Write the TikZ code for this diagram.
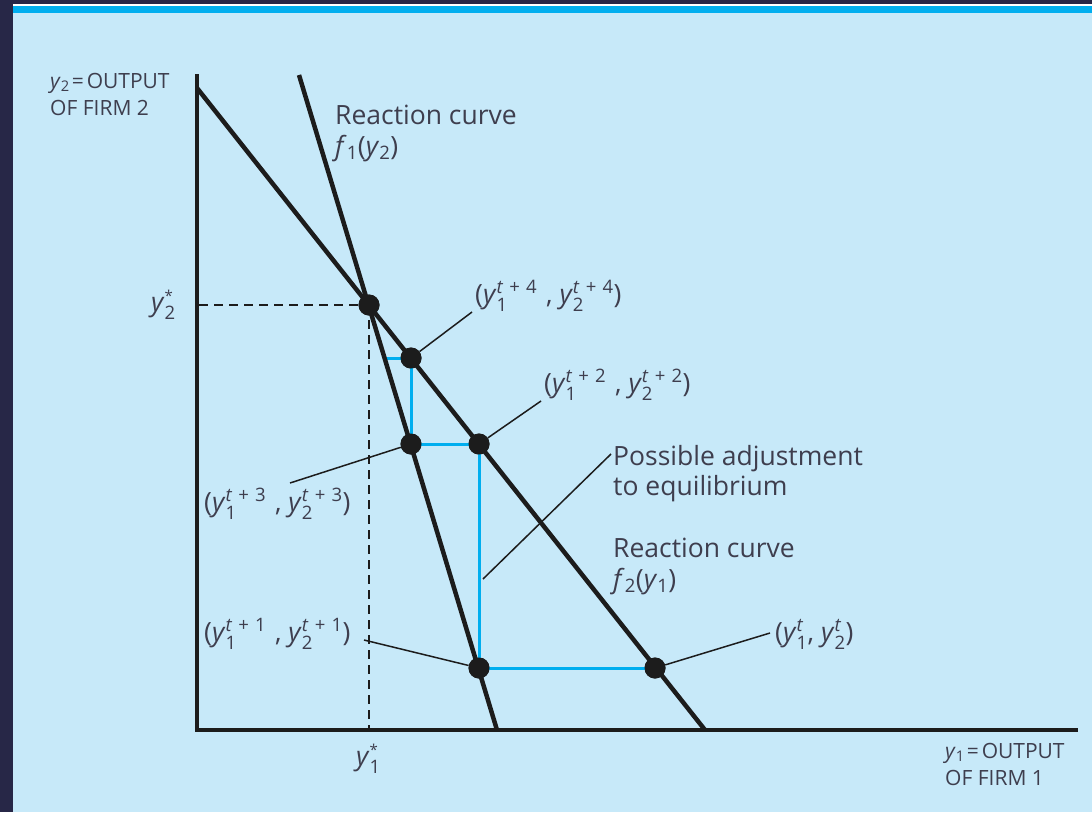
\documentclass[tikz,border=0pt]{standalone}
\usepackage{amsmath}
\usepackage{fontspec}
\setmainfont{Open Sans}
\definecolor{navy}{HTML}{272747}
\definecolor{band}{HTML}{00AEEF}
\definecolor{bg}{HTML}{C7E9F9}
\definecolor{adj}{HTML}{00AEEF}
\definecolor{txt}{HTML}{3E3E4E}
\definecolor{ink}{HTML}{1C1C1C}
\newcommand\yv[2]{\textit{y}$^{\text{#2}}_{\text{#1}}$}
\newcommand\tp[1]{\textit{t}\,\,+\,\,#1}
\newcommand\ystar[1]{\textit{y}$^{\text{\fontsize{15}{15}\selectfont *}}_{\text{#1}}$}
\tikzset{
  lab/.style={text=txt, inner sep=0pt, anchor=base west, font=\fontsize{26.5}{30}\selectfont},
  axlab/.style={text=txt, inner sep=0pt, anchor=base west, font=\fontsize{21}{27}\selectfont},
  curve/.style={ink, line width=4.5pt},
  axis/.style={ink, line width=4pt},
  guide/.style={ink, line width=1.8pt, dash pattern=on 9pt off 6pt},
  leader/.style={ink, line width=1.5pt},
  path/.style={adj, line width=3pt},
  dot/.style={circle, fill=ink, inner sep=0pt, minimum size=21pt},
}
\begin{document}
\begin{tikzpicture}[x=1pt,y=-1pt]
\useasboundingbox (0,0) rectangle (1092,812);
% frame
\fill[navy] (0,0) rectangle (1092,812);
\fill[white] (13,4) rectangle (1092,5.5);
\fill[band] (13,5.5) rectangle (1092,13);
\fill[bg] (13,13) rectangle (1092,812);
% coordinates
\coordinate (O) at (197,730);
\coordinate (ytop) at (197,74);
\coordinate (xend) at (1078,730);
\coordinate (f2a) at (197,88);
\coordinate (f2b) at (705,730);
\coordinate (f1a) at (299,75);
\coordinate (f1b) at (497,730);
\coordinate (y2s) at (199,305);
\coordinate (y1s) at (369,730);
\coordinate (q) at (386,358);
% guides
\draw[guide] (y2s) -- (369,305);
\draw[guide] (369,305) -- (y1s);
% axes
\draw[axis] (ytop) -- (O) -- (xend);
% dots (nodes)
\path (369,305) node[dot] (e) {}
      (411,358) node[dot] (p4) {}
      (411,444) node[dot] (p3) {}
      (479,444) node[dot] (p2) {}
      (479,668) node[dot] (p1) {}
      (655,668) node[dot] (p0) {};
% adjustment path
\draw[path] (p0.center) -- (p1.center) -- (p2.center) -- (p3.center) -- (p4.center) -- (q);
% reaction curves
\draw[curve] (f2a) -- (f2b);
\draw[curve] (f1a) -- (f1b);
% redraw dots on top
\foreach \p in {(369,305),(411,358),(411,444),(479,444),(479,668),(655,668)}
  \fill[ink] \p circle (10.5pt);
% labels
\node[axlab] (ax2a) at (50,88) {\textit{y}$_{\text{2}}$\hspace{2pt}=\hspace{3pt}OUTPUT};
\node[axlab] (ax2b) at (50,115) {OF FIRM 2};
\node[axlab] (ax1a) at (945,758) {\textit{y}$_{\text{1}}$\hspace{2pt}=\hspace{3pt}OUTPUT};
\node[axlab] (ax1b) at (945,785) {OF FIRM 1};
\node[lab] (rc1) at (335,124) {Reaction curve};
\node[lab] (rc1f) at (335,155) {\textit{f}$_{\text{1}}$(\textit{y}$_{\text{2}}$)};
\node[lab] (rc2) at (613,557) {Reaction curve};
\node[lab] (rc2f) at (613,588) {\textit{f}$_{\text{2}}$(\textit{y}$_{\text{1}}$)};
\node[lab] (pa1) at (613,465) {Possible adjustment};
\node[lab] (pa2) at (613,495) {to equilibrium};
\node[lab] (ys2) at (151,311) {\ystar{2}};
\node[lab] (ys1) at (356,765) {\ystar{1}};
\node[lab] (l4) at (475,303) {(\yv{1}{\tp{4}}\,\,, \yv{2}{\tp{4}})};
\node[lab] (l2) at (544,392) {(\yv{1}{\tp{2}}\,\,, \yv{2}{\tp{2}})};
\node[lab] (l3) at (204,511) {(\yv{1}{\tp{3}}\,\,, \yv{2}{\tp{3}})};
\node[lab] (l1) at (204,641) {(\yv{1}{\tp{1}}\,\,, \yv{2}{\tp{1}})};
\node[lab] (l0) at (775,641) {(\yv{1}{\textit{t}}, \yv{2}{\textit{t}})};
% leaders
\coordinate (c4) at (472,312);
\coordinate (c2) at (541,401);
\coordinate (c3) at (290,483);
\coordinate (c1) at (364,640);
\coordinate (c0) at (770,633);
\coordinate (ca) at (483,579);
\coordinate (cb) at (611,454);
\draw[leader] (p4) -- (c4);
\draw[leader] (p2) -- (c2);
\draw[leader] (p3) -- (c3);
\draw[leader] (p1) -- (c1);
\draw[leader] (p0) -- (c0);
\draw[leader] (ca) -- (cb);
\end{tikzpicture}
\end{document}
